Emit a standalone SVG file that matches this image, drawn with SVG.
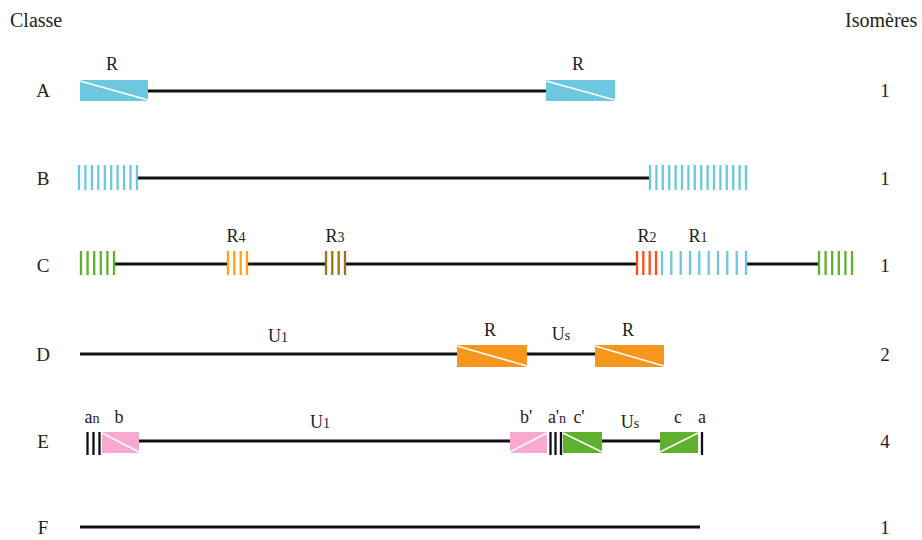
<svg xmlns="http://www.w3.org/2000/svg" width="922" height="540" viewBox="0 0 922 540">
<style>
text{font-family:"Liberation Serif","Times New Roman",serif;fill:#222}
.h{font-size:20px}
.lab{font-size:19px;text-anchor:middle}
.t{font-size:18px;text-anchor:middle}
.sub{font-size:14px}
.ln{stroke:#111;stroke-width:3;fill:none}
.diag{stroke:#fff;stroke-width:1.5}
.st{fill:none;stroke-width:2.3}
</style>
<rect width="922" height="540" fill="#fff"/>
<text class="h" x="10" y="27">Classe</text>
<text class="h" x="845" y="27">Isomères</text>

<g id="connectors">
<line class="ln" x1="148" y1="91" x2="547" y2="91"/>
<line class="ln" x1="137" y1="178" x2="650" y2="178"/>
<path class="ln" d="M114 264H228M247 264H326M345 264H637M746 264H819"/>
<line class="ln" x1="80" y1="354" x2="595" y2="354"/>
<path class="ln" d="M139 441H510M602 441H660"/>
<line class="ln" x1="80" y1="527" x2="700" y2="527"/>
</g>

<g id="rowA">
<text class="lab" x="43" y="97">A</text>
<rect x="80" y="80" width="68" height="21" fill="#6cc8df"/>
<line class="diag" x1="80" y1="81" x2="148" y2="100"/>
<text class="t" x="112" y="70">R</text>
<rect x="546" y="80" width="69" height="21" fill="#6cc8df"/>
<line class="diag" x1="546" y1="81" x2="615" y2="100"/>
<text class="t" x="578" y="70">R</text>
<text class="lab" x="885" y="97">1</text>
</g>

<g id="rowB">
<text class="lab" x="43" y="185">B</text>
<path class="st" stroke="#6cc8df" d="M79 165V190M85.4 165V190M91.9 165V190M98.3 165V190M104.8 165V190M111.2 165V190M117.6 165V190M124.1 165V190M130.5 165V190M137 165V190"/>
<path class="st" stroke="#6cc8df" d="M650 165V190M656.4 165V190M662.8 165V190M669.2 165V190M675.6 165V190M682 165V190M688.4 165V190M694.8 165V190M701.2 165V190M707.6 165V190M714 165V190M720.4 165V190M726.8 165V190M733.2 165V190M739.6 165V190M746 165V190"/>
<text class="lab" x="885" y="185">1</text>
</g>

<g id="rowC">
<text class="lab" x="43" y="272">C</text>
<path class="st" stroke="#5fb02c" d="M81 251V275M87.6 251V275M94.2 251V275M100.8 251V275M107.4 251V275M114 251V275"/>
<path class="st" stroke="#f9a21b" d="M228 251V275M234.3 251V275M240.7 251V275M247 251V275"/>
<text class="t" x="236" y="242">R<tspan class="sub">4</tspan></text>
<path class="st" stroke="#9c7618" d="M326 251V275M332.3 251V275M338.7 251V275M345 251V275"/>
<text class="t" x="335" y="242">R<tspan class="sub">3</tspan></text>
<path class="st" stroke="#ff4a1a" d="M637 251V275M643.3 251V275M649.7 251V275M656 251V275"/>
<text class="t" x="647" y="242">R<tspan class="sub">2</tspan></text>
<path class="st" stroke="#6cc8df" d="M662 251V275M671.3 251V275M680.7 251V275M690 251V275M699.3 251V275M708.7 251V275M718 251V275M727.3 251V275M736.7 251V275M746 251V275"/>
<text class="t" x="698" y="242">R<tspan class="sub">1</tspan></text>
<path class="st" stroke="#5fb02c" d="M819 251V275M825.6 251V275M832.2 251V275M838.8 251V275M845.4 251V275M852 251V275"/>
<text class="lab" x="885" y="272">1</text>
</g>

<g id="rowD">
<text class="lab" x="43" y="361">D</text>
<text class="t" x="278" y="342">U<tspan class="sub">1</tspan></text>
<rect x="457" y="345" width="70" height="22" fill="#f7961d"/>
<line class="diag" x1="457" y1="346" x2="527" y2="366"/>
<text class="t" x="490" y="336">R</text>
<text class="t" x="561" y="340">U<tspan class="sub">s</tspan></text>
<rect x="595" y="345" width="69" height="22" fill="#f7961d"/>
<line class="diag" x1="595" y1="346" x2="664" y2="366"/>
<text class="t" x="628" y="336">R</text>
<text class="lab" x="885" y="361">2</text>
</g>

<g id="rowE">
<text class="lab" x="43" y="448">E</text>
<path class="st" stroke="#111" stroke-width="2.6" d="M87.5 432V455M93.5 432V455M99.5 432V455"/>
<rect x="102" y="432" width="37" height="21" fill="#f9a8d0"/>
<line class="diag" x1="102" y1="433" x2="139" y2="452"/>
<text class="t" x="92" y="423">a<tspan class="sub">n</tspan></text>
<text class="t" x="119" y="423">b</text>
<text class="t" x="320" y="428">U<tspan class="sub">1</tspan></text>
<rect x="510" y="432" width="37" height="21" fill="#f9a8d0"/>
<line class="diag" x1="510" y1="452" x2="547" y2="433"/>
<text class="t" x="526" y="423">b'</text>
<path class="st" stroke="#111" stroke-width="2.6" d="M550.5 432V455M555.5 432V455M561 432V455"/>
<text class="t" x="557" y="423">a'<tspan class="sub">n</tspan></text>
<rect x="563" y="432" width="39" height="21" fill="#5fb02c"/>
<line class="diag" x1="563" y1="433" x2="602" y2="452"/>
<text class="t" x="579" y="423">c'</text>
<text class="t" x="630" y="428">U<tspan class="sub">s</tspan></text>
<rect x="660" y="432" width="38" height="21" fill="#5fb02c"/>
<line class="diag" x1="660" y1="452" x2="698" y2="433"/>
<text class="t" x="678" y="423">c</text>
<path class="st" stroke="#111" stroke-width="2.6" d="M702 432V455"/>
<text class="t" x="702" y="423">a</text>
<text class="lab" x="885" y="448">4</text>
</g>

<g id="rowF">
<text class="lab" x="43" y="534">F</text>
<text class="lab" x="885" y="534">1</text>
</g>
</svg>
